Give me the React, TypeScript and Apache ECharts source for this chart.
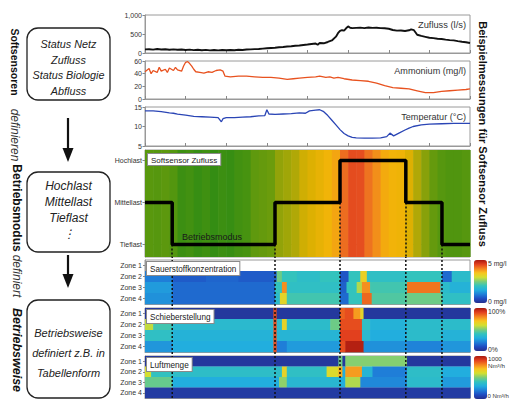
import React, { useEffect, useRef } from 'react';
import * as echarts from 'echarts';

const T_MAX = 8;

// Zufluss (l/s) over time (days)
const zuflussData: [number, number][] = [
  [0, 95], [0.1, 100], [0.2, 88], [0.3, 104], [0.4, 92], [0.5, 98], [0.6, 86], [0.7, 95], [0.8, 84], [0.9, 92],
  [1.0, 80], [1.1, 88], [1.2, 76], [1.3, 85], [1.4, 74], [1.5, 82], [1.6, 70], [1.7, 80], [1.8, 68], [1.9, 78],
  [2.0, 72], [2.1, 80], [2.2, 74], [2.3, 86], [2.4, 80], [2.5, 92], [2.6, 96], [2.7, 102], [2.8, 106], [2.9, 116],
  [3.0, 124], [3.1, 132], [3.2, 140], [3.3, 150], [3.4, 158], [3.5, 170], [3.6, 176], [3.7, 190], [3.8, 198], [3.9, 212],
  [4.0, 224], [4.1, 238], [4.2, 250], [4.25, 215], [4.3, 262], [4.4, 255], [4.5, 290], [4.6, 330], [4.7, 430], [4.75, 520],
  [4.8, 580], [4.85, 600], [4.9, 590], [4.95, 650], [5.0, 700], [5.05, 665], [5.1, 655], [5.2, 662], [5.3, 668], [5.4, 656],
  [5.5, 670], [5.6, 660], [5.7, 666], [5.8, 655], [5.9, 650], [6.0, 638], [6.1, 605], [6.2, 588], [6.3, 592], [6.4, 580],
  [6.5, 598], [6.55, 620], [6.62, 600], [6.7, 480], [6.8, 450], [6.9, 425], [7.0, 400], [7.1, 392], [7.2, 376], [7.3, 370],
  [7.4, 352], [7.5, 340], [7.6, 332], [7.7, 312], [7.8, 296], [7.9, 282], [8.0, 262]
];

// Ammonium (mg/l)
const ammoniumData: [number, number][] = [
  [0, 43], [0.1, 48], [0.15, 40], [0.2, 45], [0.3, 42], [0.35, 50], [0.4, 44], [0.5, 47], [0.55, 42], [0.6, 49],
  [0.7, 45], [0.75, 50], [0.8, 46], [0.9, 44], [0.95, 52], [1.0, 58], [1.05, 59], [1.1, 56], [1.15, 52], [1.2, 47],
  [1.25, 43], [1.35, 42], [1.45, 41], [1.55, 43], [1.65, 42], [1.75, 45], [1.85, 46], [1.92, 44], [1.97, 36], [2.1, 35],
  [2.3, 36], [2.5, 36], [2.7, 35], [2.9, 34], [3.1, 34], [3.3, 33], [3.5, 31], [3.65, 32], [3.8, 33], [4.0, 34],
  [4.2, 35], [4.3, 36], [4.45, 34], [4.55, 35], [4.65, 33], [4.75, 34], [4.9, 32], [5.1, 30], [5.3, 29], [5.5, 28],
  [5.7, 25], [5.9, 21], [6.1, 18], [6.3, 17], [6.5, 16], [6.7, 13], [6.9, 10], [7.1, 10], [7.3, 12], [7.5, 13],
  [7.7, 14], [7.9, 15], [8.0, 16]
];

// Temperatur (°C)
const temperaturData: [number, number][] = [
  [0, 14.0], [0.2, 14.0], [0.4, 13.8], [0.6, 13.5], [0.7, 13.4], [0.8, 13.2], [1.0, 12.9], [1.2, 12.6], [1.4, 12.5],
  [1.6, 12.4], [1.8, 12.3], [1.88, 11.2], [1.92, 12.0], [2.0, 12.3], [2.2, 12.3], [2.4, 12.4], [2.6, 12.5], [2.8, 12.7],
  [2.95, 12.8], [3.0, 14.3], [3.05, 13.2], [3.2, 13.1], [3.4, 13.2], [3.6, 13.3], [3.8, 13.5], [3.95, 13.4], [4.05, 14.0],
  [4.2, 14.2], [4.3, 14.3], [4.4, 13.8], [4.5, 12.8], [4.6, 11.6], [4.7, 10.4], [4.8, 9.2], [4.9, 8.2], [5.0, 7.6],
  [5.1, 7.2], [5.2, 7.1], [5.4, 7.0], [5.6, 7.0], [5.8, 7.1], [5.95, 7.4], [6.03, 8.3], [6.12, 7.6], [6.25, 8.3],
  [6.4, 9.1], [6.5, 9.6], [6.6, 10.0], [6.8, 10.4], [7.0, 10.6], [7.3, 10.7], [7.6, 10.8], [8.0, 10.8]
];

// Betriebsmodus (0 = Tieflast, 1 = Mittellast, 2 = Hochlast)
const modeNames = ['Tieflast', 'Mittellast', 'Hochlast'];
const modeSteps: [number, number][] = [[0, 1], [0.67, 0], [3.2, 1], [4.8, 2], [6.42, 1], [7.31, 0], [8, 0]];

// Softsensor Zufluss level (0..1), one value per 0.2 days
const softsensorStep = 0.2;
const softsensorLevel = [
  0.16, 0.15, 0.17, 0.14, 0.06, 0.08, 0.04, 0.07, 0.03, 0.06,
  0.04, 0.08, 0.1, 0.18, 0.2, 0.22, 0.3, 0.33, 0.36, 0.42,
  0.45, 0.5, 0.55, 0.62, 0.8, 0.92, 0.9, 0.78, 0.7, 0.6,
  0.56, 0.54, 0.45, 0.36, 0.28, 0.2, 0.15, 0.13, 0.13, 0.15
];

const zoneNames = ['Zone 1', 'Zone 2', 'Zone 3', 'Zone 4'];

// Rows: breakpoints [tStart, value]; each holds until the next breakpoint
const sauerstoffRows: ([number, number][] | null)[] = [
  null,
  [[0, 1.0], [0.67, 0.65], [1.5, 0.75], [2.3, 0.65], [3.24, 2.4], [3.37, 2.0], [3.74, 1.85], [4.3, 2.0], [4.8, 0.6], [5.01, 2.0], [5.3, 3.3], [5.46, 1.9], [6.42, 2.0], [7.31, 0.8], [7.55, 1.8]],
  [[0, 1.3], [0.67, 0.8], [3.2, 2.0], [3.37, 3.9], [3.49, 1.9], [4.8, 0.7], [4.96, 2.0], [5.21, 2.8], [5.34, 3.9], [5.54, 2.1], [6.45, 4.1], [7.27, 1.8], [7.5, 1.6]],
  [[0, 1.2], [0.67, 0.8], [3.2, 1.8], [3.32, 3.2], [3.49, 2.1], [4.8, 0.8], [5.01, 2.0], [5.34, 4.2], [5.58, 2.2], [6.45, 2.4], [7.31, 1.9]]
];

const schieberRows: ([number, number][] | null)[] = [
  [[0, 3], [3.16, 88], [3.24, 3], [4.8, 85], [4.92, 88], [5.13, 76], [5.3, 64], [5.38, 3]],
  [[0, 58], [0.2, 42], [0.67, 35], [3.16, 88], [3.24, 36], [3.37, 65], [3.49, 36], [4.56, 48], [4.8, 88], [5.34, 38], [5.54, 32], [6.45, 36]],
  [[0, 38], [0.67, 32], [3.16, 88], [3.24, 33], [4.8, 90], [5.34, 35], [5.54, 30], [6.45, 36], [7.31, 32]],
  [[0, 25], [0.67, 30], [3.16, 88], [3.24, 20], [3.49, 26], [4.8, 88], [4.93, 98], [5.38, 24], [6.45, 21], [7.31, 25]]
];

const luftRows: ([number, number][] | null)[] = [
  [[0, 30], [4.76, 480], [4.86, 30], [4.93, 510], [6.45, 30]],
  [[0, 600], [0.15, 390], [0.67, 370], [3.37, 650], [3.49, 380], [4.47, 620], [4.76, 740], [4.86, 300], [4.93, 760], [5.34, 330], [5.6, 200], [6.45, 370], [7.31, 300]],
  [[0, 470], [0.67, 300], [3.3, 520], [3.49, 340], [4.8, 300], [4.93, 560], [5.3, 220], [6.45, 360], [7.31, 260]],
  [[0, 40]]
];

const FONT = 'Liberation Sans, Arial, Helvetica, sans-serif';
const JET = ['#262f8e', '#1f4cc1', '#1f7ed8', '#22aede', '#33c3bd', '#7ccd78', '#d4df30', '#f8c41e', '#f4821f', '#e2401e', '#a8180f'];
const SOFT = ['#2c8a14', '#4a9410', '#6c9c0c', '#a2a608', '#dcb002', '#f2b408', '#f49a18', '#ee7420', '#e65020', '#e0401c'];

function rowsToCells(rows: ([number, number][] | null)[]) {
  const out: number[][] = [];
  rows.forEach((row, zi) => {
    if (!row) return;
    row.forEach((bp, i) => {
      const t1 = i + 1 < row.length ? row[i + 1][0] : T_MAX;
      out.push([bp[0], t1, zi, bp[1]]);
    });
  });
  return out;
}

const cellRender = (params: any, api: any) => {
  const p0 = api.coord([api.value(0), api.value(2)]);
  const p1 = api.coord([api.value(1), api.value(2)]);
  const h = api.size([0, 1])[1];
  return {
    type: 'rect',
    shape: { x: p0[0], y: p0[1] - h / 2, width: p1[0] - p0[0] + 0.6, height: h + 0.3 },
    style: { fill: api.visual('color') }
  };
};

const softRender = (params: any, api: any) => {
  const cs = params.coordSys;
  const x0 = api.coord([api.value(0), 0])[0];
  const x1 = api.coord([api.value(1), 0])[0];
  return {
    type: 'rect',
    shape: { x: x0, y: cs.y, width: x1 - x0 + 0.6, height: cs.height },
    style: { fill: api.visual('color') }
  };
};

export default function App() {
  const ref = useRef<HTMLDivElement>(null);
  useEffect(() => {
    if (!ref.current) return;
    const chart = echarts.init(ref.current, null, { renderer: 'svg' });
    const L = 145, W = 325;
    const yMin = -0.3, yMax = 2.25;
    const grids = [
      { top: 15, height: 38 }, { top: 61, height: 38 }, { top: 107, height: 39 }, { top: 150, height: 107 },
      { top: 260, height: 44 }, { top: 308, height: 44 }, { top: 356, height: 42 }, { top: 257, height: 141 }
    ].map((g, i) => ({
      left: L, width: W, top: g.top, height: g.height, show: i < 7, borderColor: '#9a9a9a', borderWidth: 1,
      containLabel: false, outerBoundsMode: 'none'
    }));
    const lblStyle = { fontSize: 7, color: '#333', fontFamily: FONT, margin: 3 };
    const xAxes = grids.map((_, i) => ({
      gridIndex: i, type: 'value', min: 0, max: T_MAX, interval: 1, show: i < 7,
      axisLabel: { show: false },
      axisTick: { show: i < 3, inside: true, length: 3, lineStyle: { color: '#888' } },
      axisLine: { show: true, lineStyle: { color: '#999' } },
      splitLine: { show: false }
    }));
    const valY = (i: number, min: number, max: number, interval: number) => ({
      gridIndex: i, type: 'value', min, max, interval,
      axisLabel: { ...lblStyle },
      axisTick: { show: true, length: 2.5, lineStyle: { color: '#888' } },
      axisLine: { show: true, lineStyle: { color: '#999' } },
      splitLine: { show: false }
    });
    const catY = (i: number) => ({
      gridIndex: i, type: 'category', data: zoneNames, inverse: true,
      axisLabel: { ...lblStyle },
      axisTick: { show: true, length: 2, alignWithLabel: true, lineStyle: { color: '#888' } },
      axisLine: { show: true, lineStyle: { color: '#999' } },
      splitLine: { show: false }
    });
    const yAxes: any[] = [
      valY(0, 0, 1000, 500),
      valY(1, 0, 60, 20),
      valY(2, 5, 15, 5),
      {
        gridIndex: 3, type: 'value', min: yMin, max: yMax,
        axisLabel: { ...lblStyle, customValues: [0, 1, 2], formatter: (v: number) => modeNames[Math.round(v)] || '' },
        axisTick: { show: true, length: 2.5, customValues: [0, 1, 2], lineStyle: { color: '#888' } },
        axisLine: { show: true, lineStyle: { color: '#999' } },
        splitLine: { show: false }
      },
      catY(4), catY(5), catY(6),
      { gridIndex: 7, type: 'value', min: 0, max: 1, show: false }
    ];

    const softCells = softsensorLevel.map((v, i) => [i * softsensorStep, (i + 1) * softsensorStep, v]);
    const transitions = modeSteps.slice(1, -1).map((p, i) => ({ t: p[0], low: Math.min(p[1], modeSteps[i][1]) }));
    const dotted = { type: [2, 2] as any, width: 1.5, color: '#111' };

    const series: any[] = [
      { type: 'line', xAxisIndex: 0, yAxisIndex: 0, data: zuflussData, symbol: 'none', lineStyle: { color: '#111', width: 1.9 }, silent: true },
      { type: 'line', xAxisIndex: 1, yAxisIndex: 1, data: ammoniumData, symbol: 'none', lineStyle: { color: '#e8521f', width: 1.3 }, silent: true },
      { type: 'line', xAxisIndex: 2, yAxisIndex: 2, data: temperaturData, symbol: 'none', lineStyle: { color: '#2a45b5', width: 1.3 }, silent: true },
      { type: 'custom', xAxisIndex: 3, yAxisIndex: 3, data: softCells, encode: { x: [0, 1], y: 2 }, renderItem: softRender, silent: true },
      {
        type: 'line', xAxisIndex: 3, yAxisIndex: 3, data: modeSteps, step: 'end', symbol: 'none', z: 5,
        lineStyle: { color: '#000', width: 3.5 }, silent: true,
        markLine: {
          silent: true, symbol: ['none', 'none'], label: { show: false }, lineStyle: dotted,
          data: transitions.map(tr => [{ coord: [tr.t, tr.low] }, { coord: [tr.t, yMin] }])
        }
      },
      { type: 'custom', xAxisIndex: 4, yAxisIndex: 4, data: rowsToCells(sauerstoffRows), encode: { x: [0, 1], y: 2 }, renderItem: cellRender, silent: true },
      { type: 'custom', xAxisIndex: 5, yAxisIndex: 5, data: rowsToCells(schieberRows), encode: { x: [0, 1], y: 2 }, renderItem: cellRender, silent: true },
      { type: 'custom', xAxisIndex: 6, yAxisIndex: 6, data: rowsToCells(luftRows), encode: { x: [0, 1], y: 2 }, renderItem: cellRender, silent: true },
      ...transitions.map(tr => ({
        type: 'line', xAxisIndex: 7, yAxisIndex: 7, data: [[tr.t, 0], [tr.t, 1]], symbol: 'none', z: 6,
        lineStyle: dotted, silent: true
      }))
    ];

    const cbar = (si: number, min: number, max: number, top: number) => ({
      type: 'continuous', seriesIndex: si, dimension: 3, min, max, show: true, calculable: false,
      left: 474, top, itemWidth: 13, itemHeight: 43, padding: 0, orient: 'vertical',
      inRange: { color: JET }, hoverLink: false
    });
    const visualMap: any[] = [
      { type: 'continuous', seriesIndex: 3, dimension: 2, min: 0, max: 1, show: false, inRange: { color: SOFT } },
      cbar(5, 0, 5, 260),
      cbar(6, 0, 100, 308),
      cbar(7, 0, 1000, 356)
    ];

    const txt = (text: string, x: number, y: number, o: any = {}) => ({
      type: 'text', x, y, z: 100, rotation: o.rotation || 0,
      style: {
        text, fontFamily: FONT, fontSize: o.size || 8, fontWeight: o.weight || 'normal', fontStyle: o.style || 'normal',
        fill: o.fill || '#222', align: o.align || 'left', verticalAlign: o.va || 'middle', lineHeight: o.lh,
        backgroundColor: o.bg, borderColor: o.bc, borderWidth: o.bw, padding: o.pad
      }
    });
    const rot = -Math.PI / 2;
    const boxR = (x: number, y: number, w: number, h: number) => ({
      type: 'rect', z: 100, shape: { x, y, width: w, height: h, r: 11 },
      style: { fill: '#fff', stroke: '#222', lineWidth: 1.3 }
    });
    const arrow = (y1: number, y2: number) => ([
      { type: 'line', z: 100, shape: { x1: 68, y1, x2: 68, y2: y2 - 12 }, style: { stroke: '#111', lineWidth: 2.2 } },
      { type: 'polygon', z: 100, shape: { points: [[62.5, y2 - 14], [73.5, y2 - 14], [68, y2]] }, style: { fill: '#111' } }
    ]);
    const labelBox = { bg: '#fff', bc: '#8a8a8a', bw: 1, va: 'top' };

    const graphic: any[] = [
      boxR(27, 28, 83, 72),
      txt('Status Netz\nZufluss\nStatus Biologie\nAbfluss', 68.5, 67.5, { size: 10.8, style: 'italic', align: 'center', lh: 15.4 }),
      ...arrow(118, 162),
      boxR(27, 172, 83, 80),
      txt('Hochlast\nMittellast\nTieflast\n⋮', 68.5, 210, { size: 12, style: 'italic', align: 'center', lh: 15.8 }),
      ...arrow(255, 288),
      boxR(27, 300, 83, 98),
      txt('Betriebsweise\ndefiniert z.B. in\nTabellenform', 68.5, 353, { size: 11, style: 'italic', align: 'center', lh: 20.2 }),
      txt('Softsensoren', 15, 62, { size: 10.5, weight: 'bold', align: 'center', rotation: rot, fill: '#111' }),
      txt('definieren', 15, 135, { size: 12, style: 'italic', align: 'center', rotation: rot, fill: '#333' }),
      txt('Betriebsmodus', 17, 208, { size: 12, weight: 'bold', align: 'center', rotation: rot, fill: '#111' }),
      txt('definiert', 17, 276, { size: 12, style: 'italic', align: 'center', rotation: rot, fill: '#333' }),
      txt('Betriebsweise', 17, 350, { size: 12.5, weight: 'bold', style: 'italic', align: 'center', rotation: rot, fill: '#111' }),
      txt('Beispielmessungen für Softsensor Zufluss', 483, 134, { size: 11.1, weight: 'bold', align: 'center', rotation: rot, fill: '#111' }),
      txt('Zufluss (l/s)', 466, 25, { size: 9.3, align: 'right', fill: '#333' }),
      txt('Ammonium (mg/l)', 466, 71, { size: 9.1, align: 'right', fill: '#333' }),
      txt('Temperatur (°C)', 466, 117, { size: 9.1, align: 'right', fill: '#333' }),
      txt('Softsensor Zufluss', 148, 154, { size: 8, ...labelBox, pad: [2, 3, 1, 3] }),
      txt('Betriebsmodus', 182, 237, { size: 9, fill: '#1a1a1a' }),
      txt('Sauerstoffkonzentration', 147, 262, { size: 8.2, ...labelBox, pad: [3, 3, 2, 3] }),
      txt('Schieberstellung', 147, 310, { size: 8.2, ...labelBox, pad: [3, 3, 2, 3] }),
      txt('Luftmenge', 147, 358, { size: 8.2, ...labelBox, pad: [3, 3, 2, 3] }),
      txt('5 mg/l', 488, 263, { size: 6.8, fill: '#333' }),
      txt('0 mg/l', 488, 301, { size: 6.8, fill: '#333' }),
      txt('100%', 488, 311, { size: 6.8, fill: '#333' }),
      txt('0%', 488, 349, { size: 6.8, fill: '#333' }),
      txt('1000\nNm³/h', 488, 362, { size: 6.2, fill: '#333', lh: 7 }),
      txt('0 Nm³/h', 487.5, 396, { size: 6, fill: '#333' })
    ];

    chart.setOption({
      animation: false,
      backgroundColor: '#fff',
      grid: grids,
      xAxis: xAxes,
      yAxis: yAxes,
      visualMap,
      series,
      graphic
    });
    return () => chart.dispose();
  }, []);
  return <div ref={ref} style={{ position: 'fixed', left: 0, top: 0, width: 510, height: 401 }} />;
}
